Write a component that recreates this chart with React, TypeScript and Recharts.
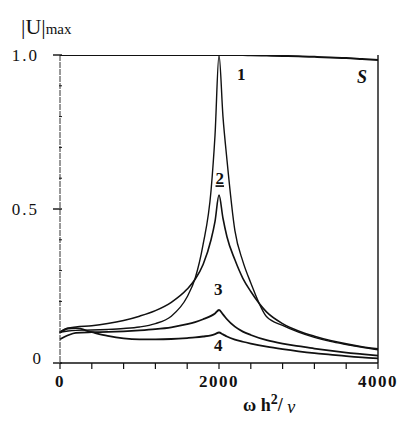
import { LineChart, Line, XAxis, YAxis, ReferenceLine, ReferenceDot } from "recharts";

// frequency axis (omega h^2 / nu)
const omega = [0, 100, 200, 400, 600, 800, 1000, 1200, 1400, 1600, 1700, 1800, 1900, 1950, 2000, 2050, 2100, 2200, 2300, 2400, 2600, 2800, 3000, 3200, 3400, 3600, 3800, 4000];

// |U|max for each curve
const curve1 = [0.10, 0.104, 0.106, 0.107, 0.109, 0.112, 0.117, 0.128, 0.152, 0.215, 0.275, 0.385, 0.56, 0.74, 1.0, 0.80, 0.66, 0.43, 0.33, 0.26, 0.15, 0.122, 0.10, 0.083, 0.07, 0.06, 0.051, 0.043];
const curve2 = [0.10, 0.113, 0.117, 0.121, 0.128, 0.138, 0.152, 0.170, 0.197, 0.24, 0.272, 0.32, 0.40, 0.46, 0.545, 0.47, 0.41, 0.335, 0.275, 0.232, 0.165, 0.128, 0.104, 0.087, 0.073, 0.062, 0.053, 0.046];
const curve3 = [0.077, 0.09, 0.098, 0.10, 0.101, 0.103, 0.106, 0.11, 0.116, 0.126, 0.133, 0.142, 0.153, 0.161, 0.172, 0.158, 0.142, 0.118, 0.102, 0.091, 0.074, 0.063, 0.055, 0.047, 0.04, 0.034, 0.029, 0.024];
const curve4 = [0.10, 0.112, 0.113, 0.10, 0.088, 0.08, 0.077, 0.077, 0.078, 0.081, 0.083, 0.086, 0.09, 0.094, 0.099, 0.093, 0.086, 0.076, 0.069, 0.063, 0.053, 0.045, 0.038, 0.032, 0.027, 0.022, 0.018, 0.015];
const curveS = [1, 1, 1, 1, 1, 1, 1, 1, 1, 1, 1, 1, 1, 1, 1, 1, 1, 1, 1, 0.999, 0.998, 0.997, 0.996, 0.994, 0.992, 0.99, 0.987, 0.984];

const xTicks = [0, 400, 800, 1200, 1600, 2000, 2400, 2800, 3200, 3600, 4000];
const xLabeled = [0, 2000, 4000];
const yTicks = [0, 0.1, 0.2, 0.3, 0.4, 0.5, 0.6, 0.7, 0.8, 0.9, 1.0];
const yLabeled = ["0", "0.5", "1.0"];

// curve tags: [text, omega, value]
const tags: [string, number, number][] = [
  ["1", 2280, 0.94],
  ["S", 3800, 0.93],
  ["2", 2010, 0.6],
  ["3", 1990, 0.24],
  ["4", 1990, 0.058],
];

const data = omega.map((w, i) => ({
  w,
  c1: curve1[i],
  c2: curve2[i],
  c3: curve3[i],
  c4: curve4[i],
  s: curveS[i],
}));

const FONT = '"Liberation Serif", "Times New Roman", serif';
const INK = "#111";

function YTick({ x, y, payload }: any) {
  const v = Math.round(payload.value * 10) / 10;
  const text = v === 1 ? "1.0" : v === 0 ? "0" : v === 0.5 ? "0.5" : "";
  const major = yLabeled.includes(text);
  return (
    <g>
      <line x1={major ? x - 7 : x - 1} x2={x + 2} y1={y} y2={y} stroke={INK} strokeWidth={major ? 1.4 : 1} />
      {text && (
        <text
          x={x - (v === 0 ? 17 : 21)}
          y={v === 0 ? y - 5 : y}
          textAnchor="end"
          dominantBaseline="central"
          fontFamily={FONT}
          fontSize={17}
          letterSpacing={2}
          fill={INK}
        >
          {text}
        </text>
      )}
    </g>
  );
}

function XTick({ x, y, payload }: any) {
  const v = payload.value;
  return (
    <g>
      <line x1={x} x2={x} y1={y} y2={y + 6} stroke={INK} strokeWidth={1.2} />
      {xLabeled.includes(v) && (
        <text
          x={x}
          y={y + 24}
          textAnchor="middle"
          fontFamily={FONT}
          fontSize={17}
          fontWeight="bold"
          letterSpacing={1.5}
          fill={INK}
        >
          {v}
        </text>
      )}
    </g>
  );
}

export default function App() {
  const series = [
    { key: "s", w: 2 },
    { key: "c1", w: 1.4 },
    { key: "c2", w: 1.6 },
    { key: "c3", w: 1.8 },
    { key: "c4", w: 1.8 },
  ];
  return (
    <div style={{ position: "absolute", left: 0, top: 0, width: 398, height: 421, background: "#fff" }}>
      <LineChart width={398} height={421} data={data} margin={{ top: 55, right: 20, bottom: 28, left: 0 }}>
        <XAxis
          dataKey="w"
          type="number"
          domain={[0, 4000]}
          ticks={xTicks}
          interval={0}
          height={30}
          tickSize={0}
          tickMargin={0}
          tickLine={false}
          tick={<XTick />}
          axisLine={{ stroke: INK, strokeWidth: 1.6 }}
        />
        <YAxis
          type="number"
          domain={[0, 1]}
          ticks={yTicks}
          interval={0}
          width={60}
          tickSize={0}
          tickMargin={0}
          tickLine={false}
          tick={<YTick />}
          axisLine={{ stroke: "#333", strokeWidth: 1, strokeDasharray: "6 1" }}
          allowDataOverflow
        />
        <ReferenceLine x={4000} stroke={INK} strokeWidth={1.4} />
        {series.map((s) => (
          <Line
            key={s.key}
            dataKey={s.key}
            type="monotone"
            stroke={INK}
            strokeWidth={s.w}
            dot={false}
            activeDot={false}
            isAnimationActive={false}
          />
        ))}
        {tags.map(([t, w, v]) => (
          <ReferenceDot
            key={t}
            x={w}
            y={v}
            r={0}
            fill="none"
            stroke="none"
            ifOverflow="visible"
            label={{
              value: t,
              position: "center",
              fill: INK,
              fontFamily: FONT,
              fontSize: t === "S" ? 18 : 17,
              fontWeight: "bold",
              fontStyle: t === "S" ? "italic" : "normal",
              textDecoration: t === "2" ? "underline" : "none",
            }}
          />
        ))}
      </LineChart>
      <svg width={398} height={421} style={{ position: "absolute", left: 0, top: 0, pointerEvents: "none" }}>
        <text x={21} y={34} fontFamily={FONT} fontSize={22} fill={INK}>
          |U|
          <tspan fontSize={15}>max</tspan>
        </text>
        <text x={243} y={411} fontFamily={FONT} fontSize={18} fontWeight="bold" fill={INK}>
          ω h
          <tspan fontSize={14} dy={-7}>2</tspan>
          <tspan dy={7}>/</tspan>
          <tspan fontStyle="italic" fontWeight="normal" dy={2}> ν</tspan>
        </text>
      </svg>
    </div>
  );
}
